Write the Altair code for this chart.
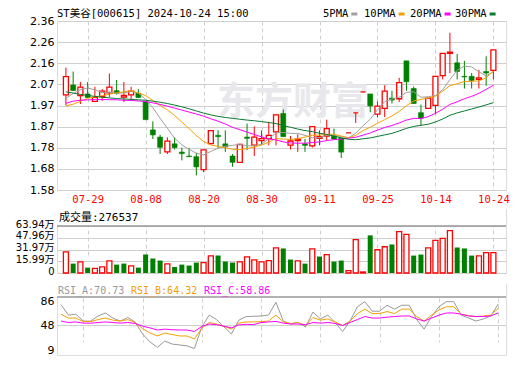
import altair as alt
import pandas as pd

# ---------------- data ----------------
dates = ["07-24", "07-25", "07-26", "07-29", "07-30", "07-31", "08-01", "08-02", "08-05", "08-06",
         "08-07", "08-08", "08-09", "08-12", "08-13", "08-14", "08-15", "08-16", "08-19", "08-20",
         "08-21", "08-22", "08-23", "08-26", "08-27", "08-28", "08-29", "08-30", "09-02", "09-03",
         "09-04", "09-05", "09-06", "09-09", "09-10", "09-11", "09-12", "09-13", "09-18", "09-19",
         "09-20", "09-23", "09-24", "09-25", "09-26", "09-27", "09-30", "10-08", "10-09", "10-10",
         "10-11", "10-14", "10-15", "10-16", "10-17", "10-18", "10-21", "10-22", "10-23", "10-24"]

opens = [2.019, 2.064, 2.016, 2.023, 1.989, 2.011, 2.028, 2.038, 2.008, 2.019,
         2.026, 1.989, 1.858, 1.825, 1.757, 1.794, 1.756, 1.738, 1.735, 1.676,
         1.795, 1.833, 1.794, 1.738, 1.709, 1.825, 1.788, 1.809, 1.818, 1.849,
         1.933, 1.788, 1.809, 1.794, 1.785, 1.819, 1.830, 1.830, 1.821, 1.844,
         1.936, 2.033, 2.023, 1.930, 1.957, 2.004, 2.001, 2.175, 2.048, 1.937,
         1.957, 1.971, 2.107, 2.209, 2.166, 2.104, 2.104, 2.090, 2.126, 2.131]
highs = [2.144, 2.126, 2.078, 2.078, 2.056, 2.045, 2.117, 2.087, 2.078, 2.056,
         2.045, 1.990, 1.897, 1.835, 1.824, 1.824, 1.777, 1.775, 1.753, 1.766,
         1.855, 1.856, 1.856, 1.747, 1.794, 1.887, 1.874, 1.856, 1.895, 1.927,
         1.952, 1.830, 1.838, 1.816, 1.873, 1.856, 1.905, 1.864, 1.821, 1.844,
         1.936, 2.033, 2.023, 1.989, 2.063, 2.038, 2.097, 2.175, 2.057, 1.974,
         2.004, 2.104, 2.209, 2.304, 2.207, 2.175, 2.119, 2.134, 2.196, 2.225]
lows = [1.971, 2.037, 1.977, 2.005, 1.986, 1.992, 2.007, 2.020, 1.986, 1.995,
        2.005, 1.905, 1.816, 1.747, 1.747, 1.768, 1.718, 1.735, 1.649, 1.664,
        1.791, 1.775, 1.757, 1.689, 1.706, 1.765, 1.738, 1.790, 1.787, 1.787,
        1.826, 1.768, 1.757, 1.757, 1.777, 1.787, 1.809, 1.812, 1.729, 1.844,
        1.890, 2.033, 1.939, 1.915, 1.917, 1.979, 1.986, 2.038, 1.978, 1.880,
        1.957, 1.930, 2.090, 2.119, 2.090, 2.048, 2.048, 2.048, 2.060, 2.090]
closes = [2.103, 2.039, 2.054, 2.007, 2.007, 2.036, 2.054, 2.026, 2.016, 2.036,
          2.007, 1.905, 1.835, 1.778, 1.806, 1.777, 1.749, 1.735, 1.688, 1.766,
          1.855, 1.827, 1.780, 1.709, 1.791, 1.819, 1.825, 1.818, 1.833, 1.927,
          1.827, 1.807, 1.815, 1.787, 1.873, 1.827, 1.864, 1.816, 1.756, 1.844,
          1.936, 2.033, 1.968, 1.967, 2.036, 1.995, 2.075, 2.079, 1.979, 1.912,
          2.004, 2.104, 2.209, 2.215, 2.126, 2.101, 2.085, 2.097, 2.119, 2.225]

ma5 = [2.003, 2.025, 2.043, 2.050, 2.042, 2.029, 2.032, 2.026, 2.028, 2.034,
       2.028, 1.998, 1.960, 1.912, 1.866, 1.820, 1.789, 1.769, 1.751, 1.743,
       1.759, 1.774, 1.783, 1.787, 1.792, 1.785, 1.785, 1.792, 1.817, 1.844,
       1.846, 1.842, 1.842, 1.833, 1.822, 1.822, 1.833, 1.833, 1.827, 1.821,
       1.843, 1.877, 1.907, 1.950, 1.988, 2.000, 2.008, 2.030, 2.033, 2.008,
       2.010, 2.016, 2.042, 2.089, 2.132, 2.151, 2.147, 2.125, 2.106, 2.125]
ma10 = [1.968, 1.976, 1.989, 2.003, 2.010, 2.015, 2.022, 2.028, 2.033, 2.038,
        2.028, 2.015, 1.993, 1.970, 1.950, 1.924, 1.894, 1.864, 1.832, 1.805,
        1.789, 1.782, 1.776, 1.769, 1.768, 1.772, 1.780, 1.788, 1.802, 1.818,
        1.816, 1.814, 1.817, 1.825, 1.833, 1.834, 1.838, 1.838, 1.830, 1.822,
        1.833, 1.855, 1.870, 1.888, 1.905, 1.922, 1.943, 1.969, 1.991, 1.998,
        2.005, 2.012, 2.036, 2.061, 2.070, 2.080, 2.081, 2.083, 2.097, 2.129]
ma20 = [1.980, 1.990, 1.994, 1.996, 1.997, 1.997, 1.997, 1.996, 1.994, 1.993,
        1.991, 1.988, 1.982, 1.975, 1.967, 1.958, 1.949, 1.940, 1.931, 1.921,
        1.909, 1.898, 1.885, 1.870, 1.859, 1.848, 1.837, 1.826, 1.817, 1.812,
        1.803, 1.798, 1.797, 1.797, 1.800, 1.803, 1.809, 1.813, 1.816, 1.820,
        1.824, 1.834, 1.844, 1.857, 1.869, 1.878, 1.890, 1.903, 1.911, 1.910,
        1.919, 1.934, 1.953, 1.975, 1.987, 2.001, 2.012, 2.026, 2.044, 2.063]
ma30 = [2.033, 2.027, 2.021, 2.016, 2.012, 2.008, 2.005, 2.002, 2.000, 1.998,
        1.996, 1.994, 1.990, 1.985, 1.979, 1.972, 1.964, 1.955, 1.945, 1.935,
        1.927, 1.920, 1.915, 1.911, 1.907, 1.903, 1.900, 1.896, 1.892, 1.887,
        1.878, 1.870, 1.862, 1.855, 1.850, 1.843, 1.837, 1.830, 1.821, 1.815,
        1.813, 1.817, 1.821, 1.828, 1.835, 1.842, 1.853, 1.865, 1.874, 1.879,
        1.884, 1.894, 1.908, 1.925, 1.936, 1.945, 1.954, 1.963, 1.973, 1.983]

volumes = [288000, 128000, 151000, 73000, 64000, 82000, 165000, 114000, 128000, 96000,
           73000, 252000, 197000, 169000, 123000, 82000, 114000, 101000, 142000, 142000,
           233000, 238000, 156000, 142000, 151000, 220000, 178000, 151000, 169000, 343000,
           334000, 183000, 165000, 128000, 329000, 224000, 250000, 155000, 169000, 32000,
           453000, 14000, 512000, 316000, 357000, 388000, 563000, 526000, 237000, 251000,
           343000, 443000, 471000, 576000, 347000, 334000, 237000, 233000, 278000, 276537]
vol_up = [1, 0, 1, 0, 1, 1, 1, 0, 0, 1,
          0, 0, 0, 0, 1, 0, 0, 0, 0, 1,
          1, 0, 0, 0, 1, 1, 1, 1, 1, 1,
          0, 0, 1, 0, 1, 0, 1, 0, 0, 1,
          1, 1, 0, 1, 1, 0, 1, 1, 0, 0,
          1, 1, 1, 1, 0, 0, 0, 1, 1, 1]

rsi_a = [81.3, 64.6, 66.0, 55.1, 55.0, 63.2, 68.0, 59.9, 55.0, 60.8,
         53.7, 34.7, 21.9, 13.3, 23.3, 18.5, 17.1, 15.7, 11.4, 45.6,
         64.6, 57.5, 45.6, 34.7, 56.6, 62.3, 62.7, 63.2, 64.6, 85.0,
         55.1, 50.4, 52.8, 45.6, 69.4, 58.5, 64.6, 52.8, 38.5, 55.1,
         77.9, 86.0, 70.8, 70.8, 80.3, 74.1, 80.3, 80.3, 57.5, 42.3,
         62.3, 77.9, 86.0, 86.0, 64.6, 59.9, 55.1, 58.5, 63.2, 82.2]
rsi_b = [66.0, 59.9, 59.9, 54.2, 54.2, 57.5, 59.9, 56.6, 55.1, 57.5,
         52.8, 43.2, 36.1, 31.4, 36.1, 33.7, 31.4, 31.4, 26.6, 44.2,
         52.8, 50.4, 46.6, 42.3, 51.8, 53.7, 53.7, 54.2, 55.1, 64.6,
         53.7, 51.3, 52.8, 48.0, 60.8, 56.6, 58.5, 53.7, 48.0, 55.1,
         67.0, 74.1, 67.0, 67.0, 70.3, 67.0, 74.1, 74.1, 62.3, 55.1,
         64.6, 72.7, 77.9, 77.9, 66.0, 63.7, 62.3, 63.2, 64.6, 75.6]
rsi_c = [55.1, 52.8, 53.7, 51.8, 51.8, 52.8, 53.7, 52.8, 51.8, 52.8,
         51.3, 47.0, 44.2, 40.9, 42.3, 41.3, 40.9, 40.9, 38.5, 46.6,
         50.4, 49.4, 47.0, 44.2, 49.0, 49.9, 49.4, 52.8, 53.7, 54.6,
         51.8, 50.4, 50.4, 49.4, 52.8, 51.8, 52.8, 51.3, 48.0, 52.8,
         57.5, 62.3, 59.9, 59.9, 61.3, 62.3, 63.2, 63.2, 58.5, 55.1,
         59.9, 64.6, 68.0, 68.0, 66.0, 63.2, 62.3, 62.3, 63.2, 68.0]

price_ticks = [1.582, 1.679, 1.776, 1.873, 1.970, 2.067, 2.164, 2.261, 2.358]
price_labels = ["1.58", "1.68", "1.78", "1.87", "1.97", "2.07", "2.16", "2.26", "2.36"]
vol_ticks = [0, 159850, 319700, 479550, 639400]
vol_labels = ["0", "15.99万", "31.97万", "47.96万", "63.94万"]
rsi_ticks = [9, 48, 86]
rsi_domain = [1.1, 93.4]
date_tick_idx = [3, 11, 19, 27, 35, 43, 51, 59]

title_text = "ST美谷[000615] 2024-10-24 15:00"
watermark = "东方财富"
ma_names = ["5PMA", "10PMA", "20PMA", "30PMA"]
ma_fields = ["ma5", "ma10", "ma20", "ma30"]
ma_colors = ["#a0a0a0", "#f5a000", "#ff00ff", "#0a7a32"]
vol_header = "成交量:276537"
rsi_headers = ["RSI_A:70.73", "RSI_B:64.32", "RSI_C:58.86"]
rsi_fields = ["rsi_a", "rsi_b", "rsi_c"]
rsi_colors = ["#999999", "#f5a000", "#ff00ff"]

# ---------------- styling / layout ----------------
RED, GREEN = "#ff0000", "#008000"
FRAME, GRID = "#999999", "#cfcfcf"
MONO = "DejaVu Sans Mono, Noto Sans CJK SC"
SANS = "DejaVu Sans, Noto Sans CJK SC"
W = 449
H_MAIN = 169
H_VOL, VOL_HEAD = 64, 17
H_RSI, RSI_HEAD = 71, 13
MONO_SIZE = 10.5

n = len(dates)
df = pd.DataFrame({
    "i": list(range(n)), "date": dates,
    "open": opens, "high": highs, "low": lows, "close": closes,
    "ma5": ma5, "ma10": ma10, "ma20": ma20, "ma30": ma30,
    "vol": volumes, "vol_up": vol_up,
    "rsi_a": rsi_a, "rsi_b": rsi_b, "rsi_c": rsi_c,
})

x_scale = alt.Scale(domain=[-0.54, 60.05], nice=False, zero=False)
date_expr = "[" + ",".join(f"'{d}'" for d in dates) + "][datum.value]"


def X(labels):
    if labels:
        ax = alt.Axis(values=date_tick_idx, labelExpr=date_expr, grid=True, gridDash=[4, 3],
                      gridColor=GRID, ticks=False, domain=False, title=None,
                      tickCount=len(date_tick_idx) + 2,
                      labelColor=RED, labelFont=MONO, labelFontSize=MONO_SIZE, labelPadding=4,
                      labelFlush=False, labelOverlap=False)
    else:
        ax = alt.Axis(values=date_tick_idx, labels=False, grid=True, gridDash=[4, 3],
                      tickCount=len(date_tick_idx) + 2,
                      gridColor=GRID, ticks=False, domain=False, title=None)
    return alt.X("i:Q", scale=x_scale, axis=ax)


def lookup_expr(ticks, labels):
    return ("[" + ",".join(f"'{l}'" for l in labels) + "][indexof(["
            + ",".join(str(t) for t in ticks) + "], datum.value)]")


def yaxis(ticks, expr=None, grid=True, offset=0, size=11):
    kw = dict(values=ticks, tickCount=len(ticks) + 2, grid=grid, gridColor=GRID, ticks=False,
              domain=False, title=None,
              labelFont=SANS, labelFontSize=size, labelColor="#000000", labelPadding=3,
              labelFlush=False, labelOverlap=False, minExtent=48, maxExtent=48)
    if expr:
        kw["labelExpr"] = expr
    if offset:
        kw["labelOffset"] = offset
    return alt.Axis(**kw)


def text_layer(txt, x, y, color="#000000", size=MONO_SIZE, font=MONO, **kw):
    return alt.Chart(alt.Data(values=[{"t": txt}])).mark_text(
        align="left", baseline="middle", font=font, fontSize=size, color=color, **kw
    ).encode(x=alt.value(x), y=alt.value(y), text="t:N")


def box_layer(x1, x2, y1, y2, color):
    return alt.Chart(alt.Data(values=[{}])).mark_rect(color=color).encode(
        x=alt.value(x1), x2=alt.value(x2), y=alt.value(y1), y2=alt.value(y2))


base = alt.Chart(df)
up_f = "datum.close >= datum.open"
dn_f = "datum.close < datum.open"

# ---------------- main price panel ----------------
price_scale = alt.Scale(domain=[price_ticks[0], price_ticks[-1]], nice=False, zero=False)
price_axis = yaxis(price_ticks, lookup_expr(price_ticks, price_labels))


def PY(field):
    return alt.Y(f"{field}:Q", scale=price_scale, axis=price_axis)


wm = text_layer(watermark, 160, 82, color="#e8e8ec", size=38, font="Noto Sans CJK SC",
                fontWeight="bold")

wick_up = base.transform_filter(up_f).mark_rule(color=RED, strokeWidth=1).encode(
    x=X(True), y=PY("low"), y2="high:Q")
wick_dn = base.transform_filter(dn_f).mark_rule(color=GREEN, strokeWidth=1).encode(
    x=X(True), y=PY("low"), y2="high:Q")
body_up = base.transform_filter(up_f).mark_bar(size=5, fill="white", stroke=RED,
                                               strokeWidth=1.3).encode(
    x=X(True), y=PY("open"), y2="close:Q")
body_dn = base.transform_filter(dn_f).mark_bar(size=5, fill=GREEN, stroke=GREEN,
                                               strokeWidth=0.6).encode(
    x=X(True), y=PY("open"), y2="close:Q")

ma_lines = [base.mark_line(color=c, strokeWidth=1).encode(x=X(True), y=PY(f))
            for f, c in zip(ma_fields, ma_colors)]

title_l = text_layer(title_text, 0, -7)
legend_layers = []
lx = [266, 307, 353, 398]
for name, col, x0 in zip(ma_names, ma_colors, lx):
    legend_layers.append(text_layer(name, x0, -7))
    sx = x0 + len(name) * MONO_SIZE * 0.602 + 3
    legend_layers.append(box_layer(sx, sx + 6, -8.5, -5.5, col))

main = alt.layer(wm, wick_up, wick_dn, body_up, body_dn, *ma_lines, title_l,
                 *legend_layers).properties(width=W, height=H_MAIN)

# ---------------- volume panel ----------------
vol_scale = alt.Scale(domain=[vol_ticks[0], vol_ticks[-1]], range=[H_VOL, VOL_HEAD], nice=False)
vol_axis = yaxis(vol_ticks, lookup_expr(vol_ticks, vol_labels), offset=-2, size=10)

vol_head_bg = box_layer(0, W, 0, VOL_HEAD, "white")
vol_bar_up = base.transform_filter("datum.vol_up == 1").mark_bar(
    size=5, fill="white", stroke=RED, strokeWidth=1.3).encode(
    x=X(False), y=alt.Y("vol:Q", scale=vol_scale, axis=vol_axis))
vol_bar_dn = base.transform_filter("datum.vol_up == 0").mark_bar(
    size=5, fill=GREEN).encode(
    x=X(False), y=alt.Y("vol:Q", scale=vol_scale, axis=vol_axis))
vol_sep = alt.Chart(alt.Data(values=[{}])).mark_rule(color=FRAME, strokeWidth=1.5).encode(
    y=alt.datum(vol_ticks[-1]))
vol_text = text_layer(vol_header, 2, VOL_HEAD / 2, size=11)

volume = alt.layer(vol_head_bg, vol_bar_up, vol_bar_dn, vol_sep, vol_text).properties(
    width=W, height=H_VOL)

# ---------------- RSI panel ----------------
rsi_scale = alt.Scale(domain=rsi_domain, range=[H_RSI, RSI_HEAD], nice=False, zero=False)
rsi_axis = yaxis(rsi_ticks, grid=False)

rsi_head_bg = box_layer(0, W, 0, RSI_HEAD, "white")
rsi_mid = alt.Chart(alt.Data(values=[{}])).mark_rule(color=GRID, strokeWidth=1).encode(
    y=alt.datum(48))
rsi_lines = [base.mark_line(color=c, strokeWidth=1).encode(
    x=X(False), y=alt.Y(f"{f}:Q", scale=rsi_scale, axis=rsi_axis))
    for f, c in zip(rsi_fields, rsi_colors)]
rsi_sep = alt.Chart(alt.Data(values=[{}])).mark_rule(color=FRAME, strokeWidth=1.5).encode(
    y=alt.datum(rsi_domain[1]))
rsi_texts = [text_layer(t, x0, RSI_HEAD / 2, color=c, size=10)
             for t, c, x0 in zip(rsi_headers, rsi_colors, [1, 74, 147])]

rsi = alt.layer(rsi_head_bg, rsi_mid, *rsi_lines, rsi_sep, *rsi_texts).properties(
    width=W, height=H_RSI)

chart = alt.vconcat(
    main,
    alt.vconcat(volume, rsi, spacing=6),
    spacing=3,
).properties(padding=0).configure_view(stroke=FRAME, strokeWidth=1.5).configure(
    font="DejaVu Sans")

chart.save("out.html", embed_options={"renderer": "svg", "actions": False})
